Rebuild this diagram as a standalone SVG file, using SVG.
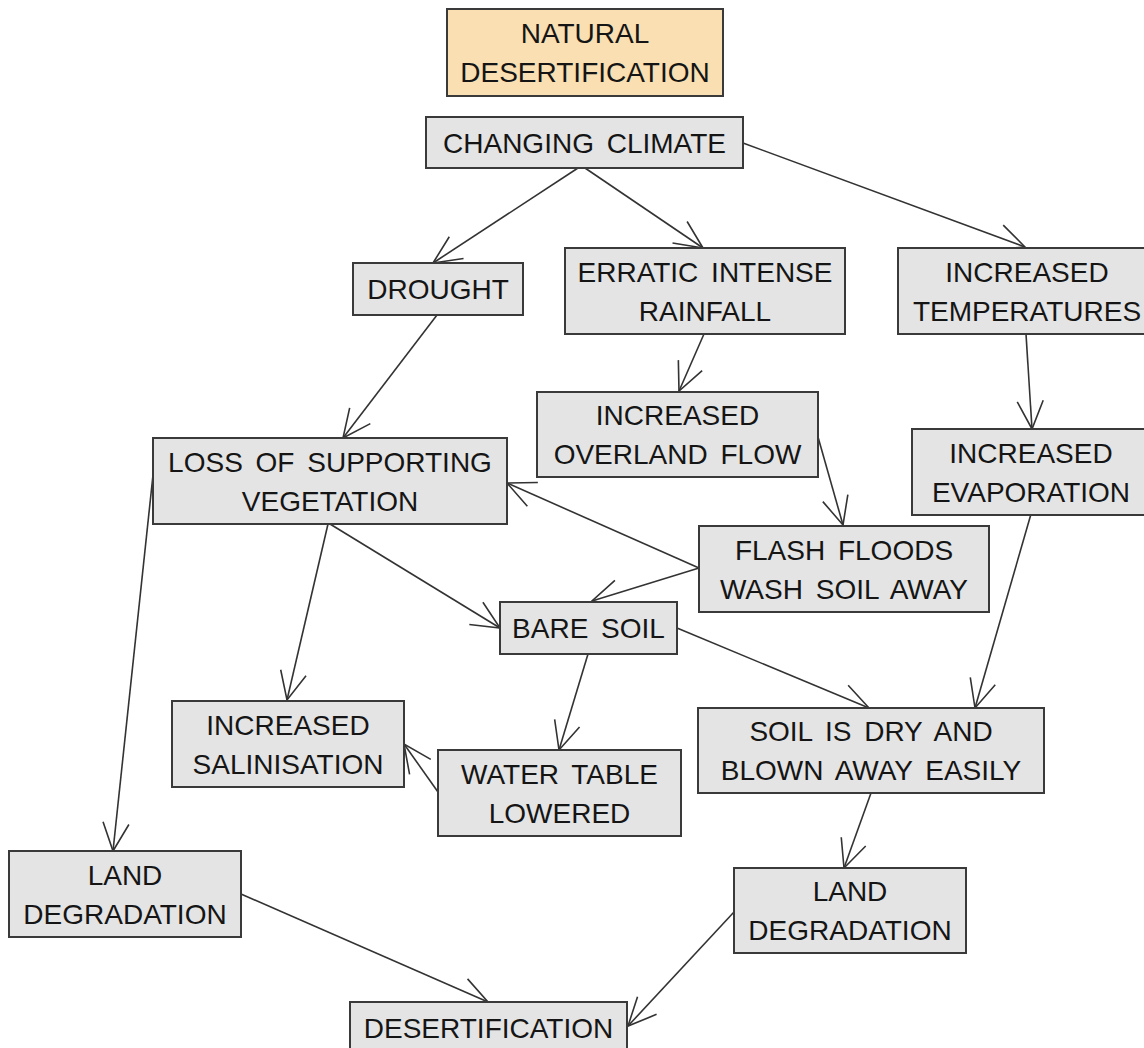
<svg xmlns="http://www.w3.org/2000/svg" width="1144" height="1048" viewBox="0 0 1144 1048">
<defs>
<style>
.box{fill:#e4e4e4;stroke:#3a3a3a;stroke-width:2}
.title{fill:#f9dfb1;stroke:#3a3a3a;stroke-width:2}
text{font-family:"Liberation Sans",Arial,sans-serif;font-size:28px;fill:#151515;text-anchor:middle;word-spacing:5px}
.conn line{stroke:#333;stroke-width:1.6;fill:none;marker-end:url(#arr)}
</style>
<marker id="arr" markerUnits="userSpaceOnUse" viewBox="-30 -15 32 30" refX="0" refY="0" markerWidth="32" markerHeight="30" orient="auto">
<path d="M-28,-13 L0,0 L-28,13" fill="none" stroke="#333" stroke-width="1.6"/>
</marker>
</defs>
<rect width="1144" height="1048" fill="#ffffff"/>
<g id="connectors" class="conn">
<line x1="578" y1="168" x2="433" y2="263"/>
<line x1="585" y1="168" x2="703" y2="248"/>
<line x1="743" y1="143" x2="1025" y2="247"/>
<line x1="437" y1="315" x2="343" y2="438"/>
<line x1="704" y1="334" x2="679" y2="391"/>
<line x1="818" y1="437" x2="843" y2="525"/>
<line x1="1026" y1="334" x2="1032" y2="429"/>
<line x1="699" y1="568" x2="507" y2="483"/>
<line x1="699" y1="568" x2="592" y2="601"/>
<line x1="328" y1="524" x2="287" y2="700"/>
<line x1="330" y1="524" x2="500" y2="628"/>
<line x1="153" y1="475" x2="113" y2="851"/>
<line x1="588" y1="654" x2="559" y2="750"/>
<line x1="438" y1="792" x2="404" y2="744"/>
<line x1="677" y1="628" x2="869" y2="708"/>
<line x1="1031" y1="514" x2="975" y2="708"/>
<line x1="871" y1="793" x2="844" y2="868"/>
<line x1="241" y1="894" x2="488" y2="1002"/>
<line x1="734" y1="912" x2="628" y2="1026"/>
</g>
<g id="natural"><rect class="title" x="447" y="9" width="276" height="87"/><text x="585" y="43">NATURAL</text><text x="585" y="82">DESERTIFICATION</text></g>
<g id="changing"><rect class="box" x="426" y="117" width="317" height="51"/><text x="584.5" y="152.5">CHANGING CLIMATE</text></g>
<g id="drought"><rect class="box" x="353" y="263" width="170" height="52"/><text x="438" y="299">DROUGHT</text></g>
<g id="erratic"><rect class="box" x="565" y="248" width="280" height="86"/><text x="705" y="281.5">ERRATIC INTENSE</text><text x="705" y="320.5">RAINFALL</text></g>
<g id="temps"><rect class="box" x="898" y="248" width="260" height="86"/><text x="1027" y="281.5">INCREASED</text><text x="1027" y="320.5">TEMPERATURES</text></g>
<g id="overland"><rect class="box" x="537" y="392" width="281" height="85"/><text x="677.5" y="425">INCREASED</text><text x="677.5" y="464">OVERLAND FLOW</text></g>
<g id="evap"><rect class="box" x="912" y="429" width="245" height="86"/><text x="1031" y="462.5">INCREASED</text><text x="1031" y="501.5">EVAPORATION</text></g>
<g id="loss"><rect class="box" x="153" y="438" width="354" height="86"/><text x="330" y="471.5">LOSS OF SUPPORTING</text><text x="330" y="510.5">VEGETATION</text></g>
<g id="flash"><rect class="box" x="699" y="526" width="290" height="86"/><text x="844" y="559.5">FLASH FLOODS</text><text x="844" y="598.5">WASH SOIL AWAY</text></g>
<g id="bare"><rect class="box" x="500" y="602" width="177" height="52"/><text x="588.5" y="638">BARE SOIL</text></g>
<g id="salin"><rect class="box" x="172" y="701" width="232" height="86"/><text x="288" y="734.5">INCREASED</text><text x="288" y="773.5">SALINISATION</text></g>
<g id="water"><rect class="box" x="438" y="750" width="243" height="86"/><text x="559.5" y="783.5">WATER TABLE</text><text x="559.5" y="822.5">LOWERED</text></g>
<g id="soildry"><rect class="box" x="698" y="708" width="346" height="85"/><text x="871" y="741">SOIL IS DRY AND</text><text x="871" y="780">BLOWN AWAY EASILY</text></g>
<g id="landL"><rect class="box" x="9" y="851" width="232" height="86"/><text x="125" y="884.5">LAND</text><text x="125" y="923.5">DEGRADATION</text></g>
<g id="landR"><rect class="box" x="734" y="868" width="232" height="85"/><text x="850" y="901">LAND</text><text x="850" y="940">DEGRADATION</text></g>
<g id="desert"><rect class="box" x="350" y="1002" width="277" height="60"/><text x="488.5" y="1038">DESERTIFICATION</text></g>
</svg>
